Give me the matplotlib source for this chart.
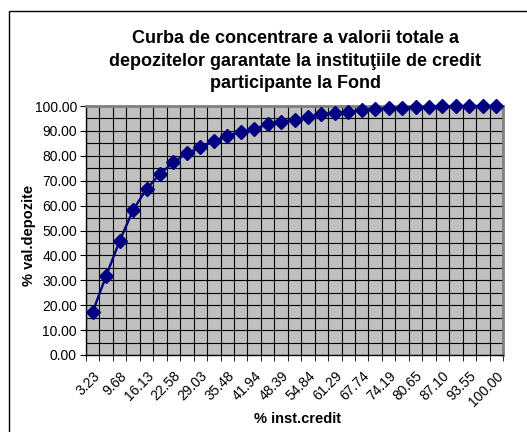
import numpy as np
import matplotlib
matplotlib.use("Agg")
import matplotlib.pyplot as plt
from matplotlib.patches import Rectangle
from matplotlib.ticker import MultipleLocator, FixedLocator

plt.rcParams['font.family'] = ['Liberation Sans', 'DejaVu Sans']

# % institutii de credit (categorii)
inst_credit = ["3.23", "6.45", "9.68", "12.90", "16.13", "19.35", "22.58", "25.81",
               "29.03", "32.26", "35.48", "38.71", "41.94", "45.16", "48.39", "51.61",
               "54.84", "58.06", "61.29", "64.52", "67.74", "70.97", "74.19", "77.42",
               "80.65", "83.87", "87.10", "90.32", "93.55", "96.77", "100.00"]
# % valoare depozite (cumulat)
val_depozite = [17.4, 31.8, 45.8, 58.2, 66.7, 72.7, 77.4, 81.0, 83.4, 85.8,
                88.1, 89.6, 90.8, 92.6, 93.7, 94.5, 95.4, 96.6, 97.3, 97.7,
                98.3, 98.7, 99.0, 99.3, 99.5, 99.7, 99.8, 99.9, 99.95, 100.0, 100.0]

navy = '#000080'

fig = plt.figure(figsize=(5.27, 4.32), dpi=100)
ax = fig.add_axes([86/527, 77/432, 417/527, 249/432])

x = np.arange(len(inst_credit))
ax.set_facecolor('#C0C0C0')
ax.plot(x, val_depozite, color=navy, lw=1.7, marker='D', ms=7.5,
        mec=navy, mfc=navy, clip_on=False, zorder=3)

ax.set_xlim(-0.5, len(inst_credit) - 0.5)
ax.set_ylim(0, 100)

# categorii: etichete din doua in doua, linii la granite
ax.xaxis.set_major_locator(FixedLocator(x[::2]))
ax.set_xticklabels(inst_credit[::2], rotation=45, ha='right', va='top',
                   rotation_mode='anchor', fontsize=10)
ax.xaxis.set_minor_locator(FixedLocator(np.arange(len(inst_credit) + 1) - 0.5))
ax.tick_params(axis='x', which='major', length=0, pad=10)
ax.tick_params(axis='x', which='minor', length=4, direction='out', color='black')

ax.yaxis.set_major_locator(MultipleLocator(10))
ax.yaxis.set_minor_locator(MultipleLocator(5))
ax.yaxis.set_major_formatter(matplotlib.ticker.FormatStrFormatter('%.2f'))
ax.tick_params(axis='y', which='major', length=4.5, direction='out', labelsize=10, pad=2)
ax.tick_params(axis='y', which='minor', length=0)

ax.grid(True, which='minor', axis='x', color='black', lw=0.8)
ax.grid(True, which='both', axis='y', color='black', lw=0.8)
ax.set_axisbelow(True)

for s in ['left', 'bottom']:
    ax.spines[s].set_color('black')
    ax.spines[s].set_linewidth(1.0)
for s in ['top', 'right']:
    ax.spines[s].set_color('#808080')
    ax.spines[s].set_linewidth(2.0)

fig.text(295/527, 1 - 61/432,
         "Curba de concentrare a valorii totale a\n"
         "depozitelor garantate la instituţiile de credit\n"
         "participante la Fond",
         ha='center', va='center', fontsize=13, fontweight='bold', linespacing=1.42)
fig.text(29/527, 1 - 235/432, "% val.depozite", rotation=90, ha='center', va='center',
         fontsize=10.5, fontweight='bold')
fig.text(298/527, 1 - 419/432, "% inst.credit", ha='center', va='center',
         fontsize=10.5, fontweight='bold')

fig.patches.append(Rectangle((9/527, -0.1), 1.2, 1.1 - 11/432, transform=fig.transFigure,
                             fill=False, edgecolor='black', lw=1.0, clip_on=False))

fig.savefig('out.png', dpi=100)
